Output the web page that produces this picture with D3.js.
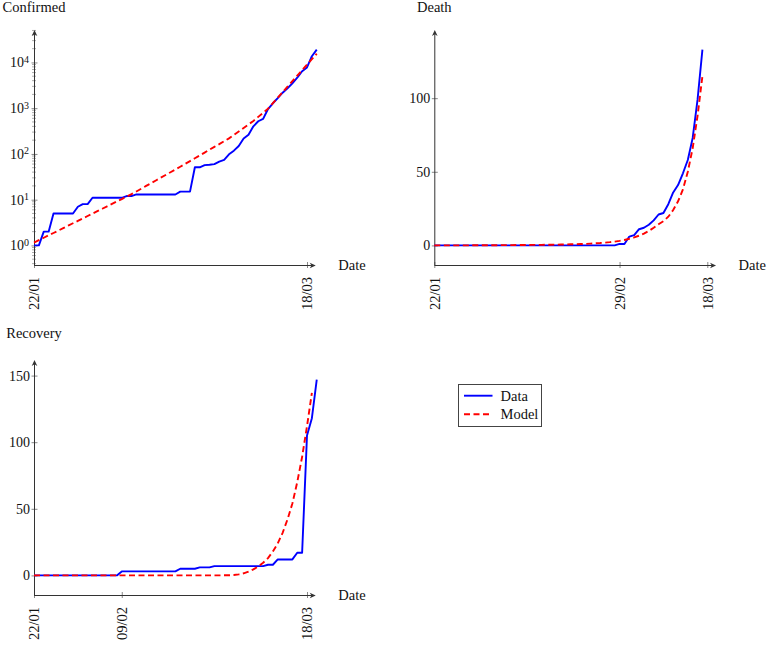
<!DOCTYPE html>
<html>
<head>
<meta charset="utf-8">
<script src="https://cdn.jsdelivr.net/npm/d3@7"></script>
<style>
  body { margin: 0; background: #fff; }
  svg text { font-family: "Liberation Serif", "Times New Roman", serif; fill: #111; }
</style>
</head>
<body>
<div class="chart"></div>
<script>
var svgWidth = 770;
var svgHeight = 645;

// one value per day, day 0 = 22/01
var confirmedData = [1, 1, 2, 2, 5, 5, 5, 5, 5, 7, 8, 8, 11, 11, 11, 11, 11, 11, 11, 12,
  12, 13, 13, 13, 13, 13, 13, 13, 13, 13, 15, 15, 15, 51, 51, 57, 58, 60, 68, 74,
  98, 118, 149, 217, 262, 402, 518, 583, 959, 1281, 1663, 2179, 2726, 3499, 4632, 6421, 7786, 13680, 19101];
var confirmedModel = [1.15, 1.3, 1.47, 1.66, 1.87, 2.11, 2.39, 2.7, 3.05, 3.44, 3.89, 4.4, 4.97, 5.61, 6.34, 7.16, 8.09, 9.14, 10.3, 11.7,
  13.2, 15.1, 17.4, 20, 22.9, 26.3, 30.2, 34.7, 39.8, 45.7, 52.5, 60.5, 69.8, 80.5, 92.9, 107, 124, 143, 164, 190,
  219, 261, 310, 370, 441, 525, 646, 794, 977, 1288, 1698, 2239, 2951, 3890, 5129, 6761, 8913, 11750, 15490];

var deathData = [0, 0, 0, 0, 0, 0, 0, 0, 0, 0, 0, 0, 0, 0, 0, 0, 0, 0, 0, 0,
  0, 0, 0, 0, 0, 0, 0, 0, 0, 0, 0, 0, 0, 0, 0, 0, 0, 0, 1, 1,
  6, 7, 11, 12, 14, 17, 21, 22, 28, 36, 41, 49, 58, 73, 99, 133];
var deathModel = [0, 0, 0, 0, 0, 0.05, 0.05, 0.05, 0.1, 0.1, 0.1, 0.1, 0.15, 0.15, 0.2, 0.2, 0.2, 0.25, 0.3, 0.3,
  0.35, 0.4, 0.4, 0.45, 0.5, 0.55, 0.6, 0.7, 0.75, 0.85, 0.95, 1.05, 1.2, 1.4, 1.6, 1.9, 2.2, 2.6, 3.1, 3.7,
  4.5, 5.4, 6.6, 8, 9.8, 12, 14.4, 16.5, 19.5, 24, 30, 38, 50, 66, 88, 115];

var recoveryData = [0, 0, 0, 0, 0, 0, 0, 0, 0, 0, 0, 0, 0, 0, 0, 0, 0, 0, 3, 3,
  3, 3, 3, 3, 3, 3, 3, 3, 3, 3, 5, 5, 5, 5, 6, 6, 6, 7, 7, 7,
  7, 7, 7, 7, 7, 7, 7, 7, 8, 8, 12, 12, 12, 12, 17, 17, 105, 118, 147];
var recoveryModel = [0, 0, 0, 0, 0, 0, 0, 0, 0, 0, 0, 0, 0, 0, 0, 0, 0, 0, 0, 0,
  0, 0, 0, 0, 0, 0, 0, 0, 0, 0, 0, 0, 0, 0, 0, 0, 0, 0, 0.05, 0.1,
  0.15, 0.3, 0.8, 1.6, 2.8, 4.5, 6.8, 9.5, 13, 18, 24, 32, 42, 54, 70, 89, 112, 137];

var confirmedTicks = [0, 56];
var confirmedTickLabels = ["22/01", "18/03"];
var deathTicks = [0, 38, 56];
var deathTickLabels = ["22/01", "29/02", "18/03"];
var recoveryTicks = [0, 18, 56];
var recoveryTickLabels = ["22/01", "09/02", "18/03"];

var plotW = 282.75;
var plotH = 235;
var lastDay = 58;

var svg = d3.select(".chart")
  .append("svg")
  .attr("width", svgWidth)
  .attr("height", svgHeight);

function arrowHead(g, x, y, dir) {
  // small stealth-like arrow, dir "up" or "right"
  var p = dir == "up"
    ? `M${x},${y} L${x + 2.8},${y + 6} L${x},${y + 4.3} L${x - 2.8},${y + 6} Z`
    : `M${x},${y} L${x - 6},${y - 2.8} L${x - 4.3},${y} L${x - 6},${y + 2.8} Z`;
  g.append("path").attr("d", p).attr("fill", "#333");
}

function drawPanel(opt) {
  var g = svg.append("g")
    .attr("transform", `translate(${opt.left}, ${opt.top})`);

  var x = d3.scaleLinear().domain([0, lastDay]).range([0, plotW]);

  var all = opt.data.concat(opt.model);
  var y;
  if (opt.log) {
    var lo = Math.log10(d3.min(all)), hi = Math.log10(d3.max(all));
    var pad = (hi - lo) * 0.1;
    y = d3.scaleLog().domain([Math.pow(10, lo - pad), Math.pow(10, hi + pad)]).range([plotH, 0]);
  } else {
    var mn = d3.min(all), mx = d3.max(all);
    var pd = (mx - mn) * 0.1;
    y = d3.scaleLinear().domain([mn - pd, mx + pd]).range([plotH, 0]);
  }

  // y axis
  var leftAxis = d3.axisLeft(y).tickValues(opt.yTicks).tickSize(0).tickPadding(opt.log ? 5 : 4);
  var yg = g.append("g").call(leftAxis);
  yg.select(".domain").remove();
  yg.selectAll(".tick line").remove();
  yg.selectAll(".tick").append("line")
    .attr("x1", -2.5).attr("x2", 3.5)
    .attr("stroke", "#888").attr("stroke-width", 1);
  yg.selectAll("text").attr("font-size", "14px").attr("fill", "#111");

  if (opt.log) {
    yg.selectAll(".tick text").each(function(d) {
      var t = d3.select(this).text("");
      t.append("tspan").text("10");
      t.append("tspan").attr("dy", "-0.45em").attr("font-size", "10px").text(Math.round(Math.log10(d)));
    });
    // minor log ticks
    var minor = [];
    var dom = y.domain();
    for (var e = Math.floor(Math.log10(dom[0])); e <= Math.ceil(Math.log10(dom[1])); e++) {
      for (var k = 2; k <= 9; k++) {
        var v = k * Math.pow(10, e);
        if (v >= dom[0] && v <= dom[1]) minor.push(v);
      }
    }
    g.append("g").selectAll("line")
      .data(minor)
      .enter()
      .append("line")
      .attr("x1", -2).attr("x2", 2)
      .attr("y1", d => y(d)).attr("y2", d => y(d))
      .attr("stroke", "#999").attr("stroke-width", 0.8);
  }

  // x axis
  var bottomAxis = d3.axisBottom(x).tickValues(opt.xTicks)
    .tickFormat((d, i) => opt.xTickLabels[i]).tickSize(0);
  var xg = g.append("g")
    .attr("transform", `translate(0, ${plotH})`)
    .call(bottomAxis);
  xg.select(".domain").remove();
  xg.selectAll(".tick line").remove();
  xg.selectAll(".tick").append("line")
    .attr("y1", -3).attr("y2", 3)
    .attr("stroke", "#888").attr("stroke-width", 1);
  xg.selectAll("text")
    .attr("font-size", "14.5px")
    .attr("fill", "#111")
    .attr("transform", "rotate(-90)")
    .attr("text-anchor", "end")
    .attr("x", -12)
    .attr("y", 0)
    .attr("dy", "0.33em");

  // axis lines with arrows
  g.append("line")
    .attr("x1", 0).attr("y1", plotH + 0.5).attr("x2", plotW - 4).attr("y2", plotH + 0.5)
    .attr("stroke", "#333").attr("stroke-width", 1);
  arrowHead(g, plotW - 1, plotH + 0.5, "right");
  g.append("line")
    .attr("x1", 0.5).attr("y1", plotH).attr("x2", 0.5).attr("y2", 3)
    .attr("stroke", "#333").attr("stroke-width", 1);
  arrowHead(g, 0.5, 0, "up");

  // series
  var line = d3.line()
    .x((d, i) => x(i))
    .y(d => y(d));

  g.append("path")
    .datum(opt.data)
    .attr("d", line)
    .attr("fill", "none")
    .attr("stroke", "#0000ff")
    .attr("stroke-width", 1.9)
    .attr("stroke-linejoin", "round");

  g.append("path")
    .datum(opt.model)
    .attr("d", line)
    .attr("fill", "none")
    .attr("stroke", "#ff0000")
    .attr("stroke-width", 1.9)
    .attr("stroke-dasharray", "6,3.5");

  // labels
  g.append("text")
    .attr("x", 0)
    .attr("y", -opt.titleGap)
    .attr("text-anchor", "middle")
    .attr("font-size", "14.5px")
    .text(opt.title);

  g.append("text")
    .attr("x", plotW + 21.5)
    .attr("y", plotH + 5)
    .attr("font-size", "14.5px")
    .text("Date");
}

drawPanel({
  left: 34, top: 30, log: true, title: "Confirmed", titleGap: 18,
  data: confirmedData, model: confirmedModel,
  yTicks: [1, 10, 100, 1000, 10000],
  xTicks: confirmedTicks, xTickLabels: confirmedTickLabels
});

drawPanel({
  left: 434.3, top: 30, log: false, title: "Death", titleGap: 18,
  data: deathData, model: deathModel,
  yTicks: [0, 50, 100],
  xTicks: deathTicks, xTickLabels: deathTickLabels
});

drawPanel({
  left: 34, top: 360, log: false, title: "Recovery", titleGap: 22,
  data: recoveryData, model: recoveryModel,
  yTicks: [0, 50, 100, 150],
  xTicks: recoveryTicks, xTickLabels: recoveryTickLabels
});

// legend
var legend = svg.append("g").attr("transform", "translate(458.5, 384.5)");
legend.append("rect")
  .attr("width", 83).attr("height", 42)
  .attr("fill", "#fff").attr("stroke", "#444").attr("stroke-width", 1);
legend.append("line")
  .attr("x1", 5.5).attr("x2", 34).attr("y1", 11.2).attr("y2", 11.2)
  .attr("stroke", "#0000ff").attr("stroke-width", 1.9);
legend.append("line")
  .attr("x1", 5.5).attr("x2", 34).attr("y1", 29.8).attr("y2", 29.8)
  .attr("stroke", "#ff0000").attr("stroke-width", 1.9).attr("stroke-dasharray", "6,3.5");
legend.append("text").attr("x", 42).attr("y", 16).attr("font-size", "14.5px").text("Data");
legend.append("text").attr("x", 42).attr("y", 34.5).attr("font-size", "14.5px").text("Model");
</script>
</body>
</html>
